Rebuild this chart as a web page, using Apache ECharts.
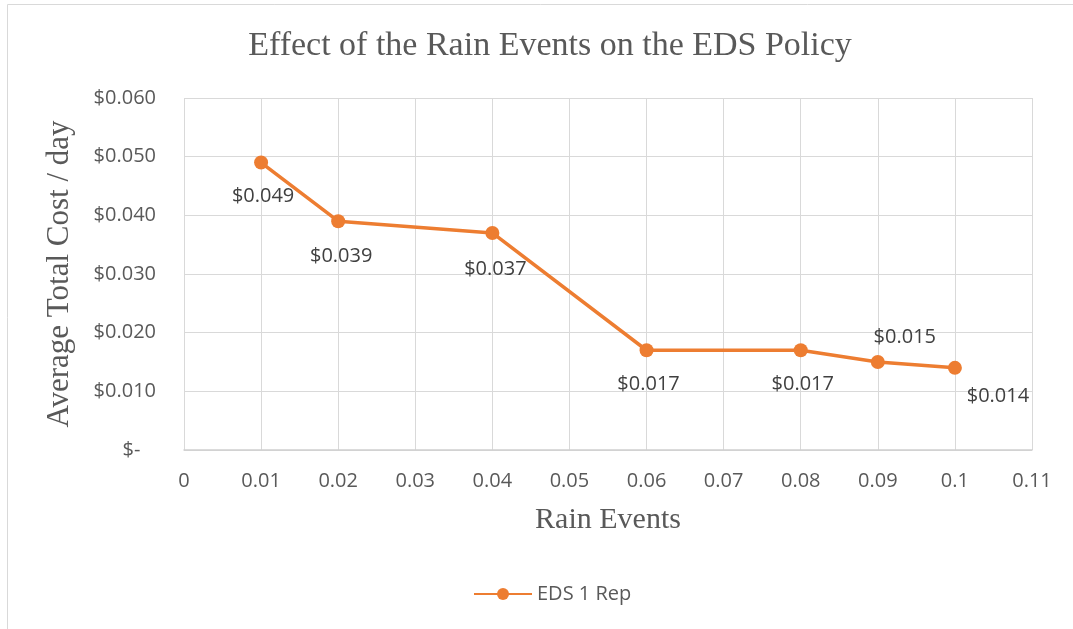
<!DOCTYPE html>
<html>
<head>
<meta charset="utf-8">
<script src="https://cdn.jsdelivr.net/npm/echarts@6/dist/echarts.min.js"></script>
<style>
  html, body { margin: 0; padding: 0; background: #fff; }
  #chart { width: 1073px; height: 629px; }
</style>
</head>
<body>
<div id="chart"></div>
<script>
// 数据
const rainEvents = [0.01, 0.02, 0.04, 0.06, 0.08, 0.09, 0.1]
const eds1Rep = [0.049, 0.039, 0.037, 0.017, 0.017, 0.015, 0.014]
const seriesName = 'EDS 1 Rep'

// 每个点的标签位置（参考图中的摆放）
const labelOffsets = [
  [2, 34], [3, 35], [3, 36], [2, 34], [2, 34], [27, -25], [43, 28]
]

const grey = '#595959'
const serif = '"Liberation Serif", "DejaVu Serif", serif'
const sans = '"Open Sans", "Noto Sans", sans-serif'

const chart = echarts.init(document.getElementById('chart'))

const options = {
  animation: false,
  textStyle: { fontFamily: sans },
  // ---标题
  title: {
    text: 'Effect of the Rain Events on the EDS Policy',
    left: 545,
    textAlign: 'center',
    top: 24,
    textStyle: { fontFamily: serif, fontSize: 34, fontWeight: 'normal', color: grey }
  },
  // ---外框
  graphic: [{
    type: 'rect',
    shape: { x: 7.5, y: 4.5, width: 1070, height: 630 },
    style: { fill: 'none', stroke: '#d9d9d9', lineWidth: 1 },
    silent: true
  }],
  legend: {
    top: 579,
    left: 468,
    itemWidth: 58,
    itemHeight: 15,
    itemGap: 10,
    textStyle: { fontFamily: sans, fontSize: 20, color: grey },
    data: [seriesName]
  },
  grid: { left: 184, right: 41, top: 98, bottom: 179, containLabel: false },
  xAxis: {
    type: 'value',
    min: 0,
    max: 0.11,
    interval: 0.01,
    name: 'Rain Events',
    nameLocation: 'middle',
    nameGap: 55,
    nameTextStyle: { fontFamily: serif, fontSize: 30, color: grey },
    axisLine: { show: true, lineStyle: { color: '#d0d0d0', width: 1.5 } },
    axisTick: { show: false },
    axisLabel: {
      margin: 21,
      fontSize: 20,
      color: grey,
      formatter: v => String(parseFloat(v.toFixed(2)))
    },
    splitLine: { show: true, lineStyle: { color: '#d9d9d9', width: 1 } }
  },
  yAxis: {
    type: 'value',
    min: 0,
    max: 0.06,
    interval: 0.01,
    name: 'Average Total Cost / day',
    nameLocation: 'middle',
    nameGap: 109,
    nameTextStyle: { fontFamily: serif, fontSize: 31, color: grey },
    axisLine: { show: false },
    axisTick: { show: false },
    axisLabel: {
      margin: 28,
      fontSize: 20,
      color: grey,
      formatter: v => (v === 0 ? '$-   ' : '$' + v.toFixed(3))
    },
    splitLine: { show: true, lineStyle: { color: '#d9d9d9', width: 1 } }
  },
  series: [{
    name: seriesName,
    type: 'line',
    data: rainEvents.map((x, i) => ({
      value: [x, eds1Rep[i]],
      label: { offset: labelOffsets[i] }
    })),
    symbol: 'circle',
    symbolSize: 14,
    lineStyle: { color: '#ED7D31', width: 3.5 },
    itemStyle: { color: '#ED7D31' },
    label: {
      show: true,
      position: 'inside',
      fontSize: 20,
      color: '#404040',
      formatter: p => '$' + p.value[1].toFixed(3)
    }
  }]
}

chart.setOption(options)
</script>
</body>
</html>
